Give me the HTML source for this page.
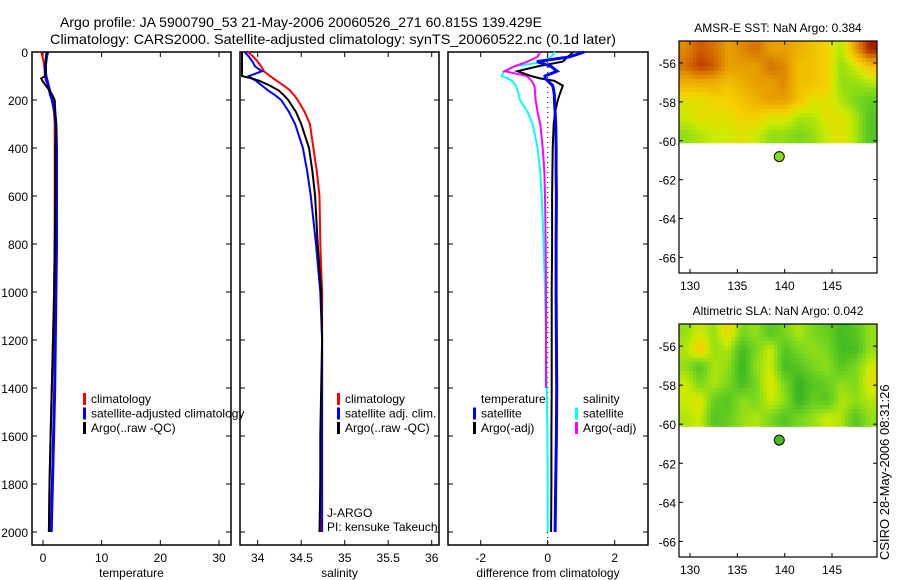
<!DOCTYPE html>
<html><head><meta charset="utf-8"><style>
html,body{margin:0;padding:0;background:#fff;}
svg{display:block;font-family:"Liberation Sans",sans-serif;}
</style></head><body>
<svg id="fig" width="900" height="580" viewBox="0 0 900 580" xmlns="http://www.w3.org/2000/svg">
<text x="60" y="27" font-size="14" textLength="482" lengthAdjust="spacingAndGlyphs">Argo profile: JA 5900790_53 21-May-2006 20060526_271 60.815S 139.429E</text>
<text x="50" y="44" font-size="14" textLength="566" lengthAdjust="spacingAndGlyphs">Climatology: CARS2000. Satellite-adjusted climatology: synTS_20060522.nc (0.1d later)</text>
<g id="plots"></g>
<text transform="translate(889,560) rotate(-90)" font-size="13">CSIRO 28-May-2006 08:31:26</text>
</svg>
<script>
// ---------- data ----------
const depthTicks = [0,200,400,600,800,1000,1200,1400,1600,1800,2000];
const depths = [0,20,40,60,80,100,110,120,140,160,180,200,250,300,400,500,600,800,1000,1200,1400,1600,1800,2000];
const tempClim  = [-0.3,-0.1,0.1,0.2,0.3,0.3,0.4,0.5,0.9,1.2,1.4,1.5,1.9,2.0,2.0,2.0,2.0,2.0,1.9,1.7,1.5,1.3,1.1,1.0];
const tempSat   = [0.8,0.6,0.5,0.4,0.4,0.5,0.6,0.7,0.9,1.1,1.3,1.6,2.0,2.2,2.3,2.3,2.3,2.3,2.2,2.1,2.0,1.8,1.6,1.4];
const tempArgo  = [0.6,0.5,0.5,0.5,0.5,0.4,-0.3,-0.1,0.5,1.1,1.6,2.0,2.1,2.2,2.1,2.1,2.1,2.0,1.9,1.7,1.5,1.3,1.1,1.0];
const salClim   = [33.89,33.95,34.0,34.04,34.07,34.14,34.18,34.22,34.30,34.37,34.42,34.46,34.54,34.60,34.64,34.68,34.71,34.72,34.74,34.74,34.74,34.73,34.72,34.72];
const salSat    = [33.85,33.9,33.94,33.97,34.05,33.9,33.93,33.98,34.05,34.12,34.2,34.27,34.36,34.43,34.52,34.57,34.61,34.67,34.72,34.74,34.74,34.74,34.74,34.74];
const salArgo   = [33.82,33.82,33.82,33.82,33.82,33.82,33.93,34.02,34.14,34.24,34.3,34.35,34.44,34.50,34.59,34.63,34.66,34.69,34.73,34.74,34.73,34.72,34.72,34.71];
const diffTempSat  = [1.09,0.66,-0.32,0.1,0.28,-0.08,-0.08,0.0,0.15,0.18,0.2,0.2,0.22,0.24,0.25,0.25,0.26,0.25,0.25,0.26,0.27,0.26,0.24,0.22];
const diffTempArgo = [0.76,0.6,0.45,-0.3,-0.9,-0.5,-0.23,0.2,0.45,0.4,0.35,0.3,0.22,0.18,0.15,0.14,0.13,0.13,0.12,0.12,0.12,0.11,0.11,0.1];
const diffSalSat   = [0.22,0.1,-0.05,-1.0,-1.3,-1.37,-1.2,-1.07,-0.95,-0.9,-0.86,-0.83,-0.6,-0.45,-0.3,-0.22,-0.18,-0.12,-0.08,-0.05,-0.03,-0.01,0.0,0.0];
const diffSalArgo  = [-0.23,-0.3,-0.6,-1.0,-1.28,-0.62,-0.55,-0.48,-0.4,-0.38,-0.37,-0.36,-0.3,-0.22,-0.15,-0.1,-0.08,-0.06,-0.05,-0.05,-0.05,null,null,null];
const tempTicks = [0,10,20,30];
const salTicks = [34,34.5,35,35.5,36];
const diffTicks = [-2,0,2];
const latTicks = [-56,-58,-60,-62,-64,-66];
const lonTicks = [130,135,140,145];
const argoLon = 139.429, argoLat = -60.815;
const sstGrid = [
 [.75,.85,.8,.7,.75,.8,.7,.7,.65,.6,.55,.4,.7,.95],
 [.8,.9,.85,.7,.7,.7,.8,.75,.6,.6,.55,.35,.45,.6],
 [.65,.65,.65,.6,.65,.7,.7,.75,.6,.6,.55,.35,.35,.4],
 [.5,.5,.55,.55,.6,.65,.7,.7,.6,.5,.5,.4,.3,.25],
 [.45,.5,.5,.5,.55,.55,.5,.5,.4,.4,.5,.5,.4,.2],
 [.35,.4,.45,.45,.5,.45,.35,.35,.3,.35,.45,.5,.4,.2]];
const slaGrid = [
 [.35,.45,.35,.55,.3,.35,.2,.3,.4,.3,.25,.15,.2,.35],
 [.4,.6,.35,.4,.15,.3,.45,.2,.3,.35,.3,.15,.15,.35],
 [.35,.2,.4,.35,.1,.35,.45,.15,.2,.3,.35,.2,.3,.45],
 [.45,.3,.4,.3,.15,.3,.5,.3,.1,.2,.25,.35,.3,.5],
 [.45,.5,.25,.2,.35,.3,.45,.35,.1,.25,.2,.4,.35,.4],
 [.4,.45,.2,.25,.35,.4,.3,.2,.3,.35,.45,.4,.2,.35]];
const sstArgo = 0.33, slaArgo = 0.15;

// ---------- helpers ----------
const NS="http://www.w3.org/2000/svg";
const root=document.getElementById('plots');
function mk(tag,attrs,parent){const e=document.createElementNS(NS,tag);for(const k in attrs)e.setAttribute(k,attrs[k]);(parent||root).appendChild(e);return e;}
function txt(s,x,y,anchor,size,parent){const t=mk('text',{x:x,y:y,'text-anchor':anchor||'start','font-size':size||12},parent);t.textContent=s;return t;}
const yTop=52, pxPerM=0.24;
const yD=d=>yTop+d*pxPerM;
const yBottom=545;
function linScale(d0,d1,r0,r1){return v=>r0+(v-d0)*(r1-r0)/(d1-d0);}

function profilePanel(name,x0,x1,xs,ticks,fmt,label,leftLabels){
  const g=mk('g',{});
  
  
  const r=mk('rect',{x:x0,y:yTop,width:x1-x0,height:yBottom-yTop,fill:'none',stroke:'#000','stroke-width':1.5},g);
  
  
  depthTicks.forEach(d=>{
    const y=yD(d);
    mk('line',{x1:x0,x2:x0+5,y1:y,y2:y,stroke:'#000'},g);
    mk('line',{x1:x1-5,x2:x1,y1:y,y2:y,stroke:'#000'},g);
    if(leftLabels){const t=txt(String(d),x0-4,y+5,'end',12,g);
      
      }
  });
  ticks.forEach(v=>{
    const x=xs(v);
    mk('line',{x1:x,x2:x,y1:yTop,y2:yTop+5,stroke:'#000'},g);
    mk('line',{x1:x,x2:x,y1:yBottom-5,y2:yBottom,stroke:'#000'},g);
    const t=txt(fmt(v),x,yBottom+17,'middle',12,g);
    
    
  });
  const lt=txt(label,(x0+x1)/2,yBottom+32,'middle',12,g);
  
  
  return g;
}
function series(g,vals,xs,color,w,name){
  let d='',pen=false;
  vals.forEach((v,i)=>{if(v===null){pen=false;return;}
    d+=(pen?'L':'M')+xs(v).toFixed(1)+' '+yD(depths[i]).toFixed(1)+' ';pen=true;});
  const p=mk('path',{d:d,fill:'none',stroke:color,'stroke-width':w},g);
  
  
}
function legend(g,items,x,y){
  items.forEach((it,i)=>{
    const yy=y+i*14.5;
    if(it[1]){const b=mk('rect',{x:x,y:yy-10,width:3,height:12,fill:it[1]},g);
      
      }
    const t=txt(it[0],x+8,yy,'start',12,g);
    
    
  });
}

// ---------- temperature ----------
const xT=linScale(0,30,43,219);
const gT=profilePanel('temperature',32,231,xT,tempTicks,String,'temperature',true);
series(gT,tempClim,xT,'#f00',2,'temp-climatology-line');
series(gT,tempSat,xT,'#00f',3,'temp-satellite-line');
series(gT,tempArgo,xT,'#000',2,'temp-argo-line');
legend(gT,[['climatology','#f00'],['satellite-adjusted climatology','#00f'],['Argo(..raw -QC)','#000']],83,403);

// ---------- salinity ----------
const xS=linScale(34,36,257.7,431.7);
const gS=profilePanel('salinity',240,439,xS,salTicks,String,'salinity',false);
series(gS,salClim,xS,'#f00',2,'sal-climatology-line');
series(gS,salSat,xS,'#00f',2,'sal-satellite-line');
series(gS,salArgo,xS,'#000',2,'sal-argo-line');
legend(gS,[['climatology','#f00'],['satellite adj. clim.','#00f'],['Argo(..raw -QC)','#000']],337,403);
const j1=txt('J-ARGO',327,517,'start',12,gS);


const j2=txt('PI: kensuke Takeuchi',327,531,'start',12,gS);



// ---------- difference ----------
const xD=linScale(-2,2,480.7,614.7);
const gD=profilePanel('difference',448,648,xD,diffTicks,String,'difference from climatology',false);
const zl=mk('line',{x1:xD(0),x2:xD(0),y1:yTop,y2:yBottom,stroke:'#000','stroke-dasharray':'1,4'},gD);


series(gD,diffSalSat,xD,'#0ff',2,'diff-sal-satellite-line');
series(gD,diffSalArgo,xD,'#f0f',2,'diff-sal-argo-line');
series(gD,diffTempArgo,xD,'#000',2,'diff-temp-argo-line');
series(gD,diffTempSat,xD,'#00f',3,'diff-temp-satellite-line');
legend(gD,[['temperature',null],['satellite','#00f'],['Argo(-adj)','#000']],473,403);
legend(gD,[['salinity',null],['satellite','#0ff'],['Argo(-adj)','#f0f']],575,403);

// ---------- maps ----------
const cmapStops=[[0,[20,160,40]],[0.3,[120,215,30]],[0.45,[205,235,0]],[0.55,[245,210,0]],[0.7,[232,160,0]],[0.85,[205,90,0]],[1,[150,0,0]]];
function cmap(v){for(let i=1;i<cmapStops.length;i++){const a=cmapStops[i-1],b=cmapStops[i];if(v<=b[0]){const t=(v-a[0])/(b[0]-a[0]);const c=a[1].map((x,k)=>Math.round(x+(b[1][k]-x)*t));return 'rgb('+c.join(',')+')';}}return 'rgb(150,0,0)';}
function sample(grid,fr,fc){
  const rows=grid.length, cols=grid[0].length;
  const r=Math.min(Math.max(fr-0.5,0),rows-1), c=Math.min(Math.max(fc-0.5,0),cols-1);
  const r0=Math.floor(r), c0=Math.floor(c), r1=Math.min(r0+1,rows-1), c1=Math.min(c0+1,cols-1);
  const tr=r-r0, tc=c-c0;
  return (grid[r0][c0]*(1-tc)+grid[r0][c1]*tc)*(1-tr)+(grid[r1][c0]*(1-tc)+grid[r1][c1]*tc)*tr;
}
function mapPanel(name,title,top,bottom,grid,argoVal){
  const x0=679,x1=877;
  const xs=linScale(130,145,690,832);
  const lat0=-54.87, latB=-66.8;
  const ys=linScale(lat0,latB,top,bottom);
  const g=mk('g',{});
  
  
  const rows=grid.length, cols=grid[0].length, sub=4;
  const lonMin=128.8, lonMax=149.7, latMin=-60.1;
  for(let r=0;r<rows*sub;r++)for(let c=0;c<cols*sub;c++){
    const v=sample(grid,(r+0.5)/sub,(c+0.5)/sub);
    const xa=xs(lonMin+(lonMax-lonMin)*c/(cols*sub)), xb=xs(lonMin+(lonMax-lonMin)*(c+1)/(cols*sub));
    const ya=ys(lat0+(latMin-lat0)*r/(rows*sub)), yb=ys(lat0+(latMin-lat0)*(r+1)/(rows*sub));
    const cell=mk('rect',{x:xa.toFixed(1),y:ya.toFixed(1),width:(xb-xa+0.6).toFixed(1),height:(yb-ya+0.6).toFixed(1),fill:cmap(v)},g);
    
    
  }
  const fr=mk('rect',{x:x0,y:top,width:x1-x0,height:bottom-top,fill:'none',stroke:'#000','stroke-width':1.2},g);
  
  
  latTicks.forEach(l=>{const y=ys(l);
    mk('line',{x1:x0,x2:x0+4,y1:y,y2:y,stroke:'#000'},g);
    mk('line',{x1:x1-4,x2:x1,y1:y,y2:y,stroke:'#000'},g);
    const t=txt(String(l),x0-3,y+5,'end',12,g);
    
    });
  lonTicks.forEach(l=>{const x=xs(l);
    mk('line',{x1:x,x2:x,y1:top,y2:top+4,stroke:'#000'},g);
    mk('line',{x1:x,x2:x,y1:bottom-4,y2:bottom,stroke:'#000'},g);
    const t=txt(String(l),x,bottom+17,'middle',12,g);
    
    });
  const tt=txt(title,(x0+x1)/2,top-9,'middle',12,g);
  
  
  const m=mk('circle',{cx:xs(argoLon),cy:ys(argoLat),r:5,fill:cmap(argoVal),stroke:'#000','stroke-width':1},g);
  
  
}
mapPanel('sst','AMSR-E SST: NaN Argo: 0.384',41,273,sstGrid,sstArgo);
mapPanel('sla','Altimetric SLA: NaN Argo: 0.042',324,557,slaGrid,slaArgo);
</script>
</body></html>
